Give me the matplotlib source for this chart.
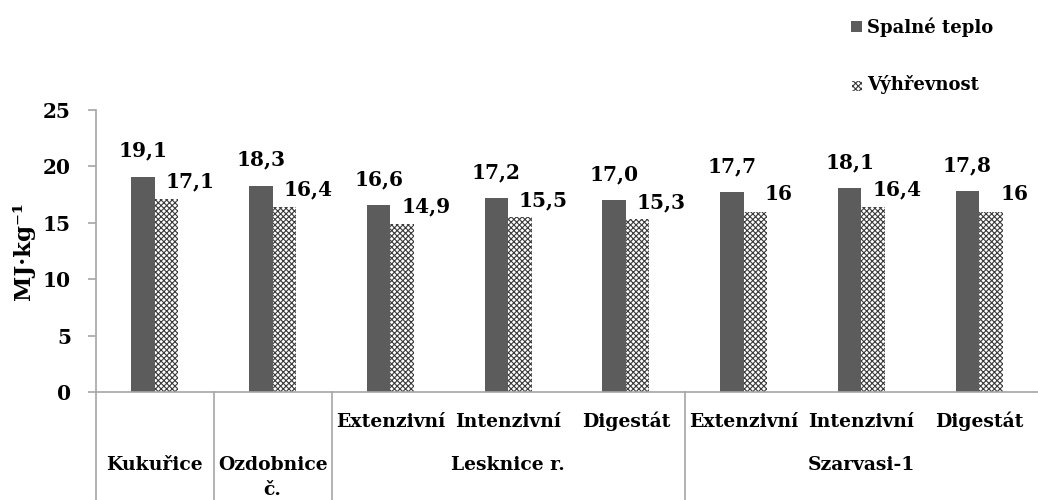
import matplotlib
matplotlib.use("Agg")
import matplotlib.pyplot as plt
from matplotlib.patches import Rectangle

plt.rcParams['font.family'] = ['DejaVu Serif']
plt.rcParams['font.weight'] = 'bold'
plt.rcParams['hatch.linewidth'] = 0.8

# Data
sub_labels = ["", "", "Extenzivní", "Intenzivní", "Digestát",
              "Extenzivní", "Intenzivní", "Digestát"]
spalne_teplo = [19.1, 18.3, 16.6, 17.2, 17.0, 17.7, 18.1, 17.8]
vyhrevnost = [17.1, 16.4, 14.9, 15.5, 15.3, 16.0, 16.4, 16.0]
spalne_text = ["19,1", "18,3", "16,6", "17,2", "17,0", "17,7", "18,1", "17,8"]
vyhrevnost_text = ["17,1", "16,4", "14,9", "15,5", "15,3", "16", "16,4", "16"]
groups = [(["Kukuřice"], 0, 0), (["Ozdobnice", "č."], 1, 1),
          (["Lesknice r."], 2, 4), (["Szarvasi-1"], 5, 7)]
y_ticks = [0, 5, 10, 15, 20, 25]

fig = plt.figure(figsize=(10.38, 5.0), dpi=100)
ax = fig.add_axes([96 / 1038, 108 / 500, 1 - 96 / 1038, 282 / 500])

grey_axis = "#a6a6a6"
dark = "#5c5c5c"
hatch_col = "#3a3a3a"
w = 0.2
x = list(range(len(spalne_teplo)))
ax.bar([i - w / 2 for i in x], spalne_teplo, width=w, color=dark, linewidth=0)
ax.bar([i + w / 2 for i in x], vyhrevnost, width=w, color="white",
       edgecolor=hatch_col, hatch="xxxxxx", linewidth=0)

val_fs = 14.5
for i in x:
    ax.text(i - w / 2, spalne_teplo[i] + 1.75, spalne_text[i],
            ha="center", va="baseline", fontsize=val_fs, fontweight="bold")
    ax.text(i + w / 2 + 0.2, vyhrevnost[i] + 1.0, vyhrevnost_text[i],
            ha="center", va="baseline", fontsize=val_fs, fontweight="bold")

ax.set_xlim(-0.5, 7.5)
ax.set_ylim(0, 25)
ax.set_yticks(y_ticks)
ax.set_yticklabels([str(t) for t in y_ticks], fontsize=val_fs, fontweight="bold")
ax.set_xticks([])
ax.tick_params(axis="y", length=6, width=1.2, color=grey_axis, pad=12)

for s in ["top", "right"]:
    ax.spines[s].set_visible(False)
for s in ["left", "bottom"]:
    ax.spines[s].set_color(grey_axis)
    ax.spines[s].set_linewidth(1.2)

ax.set_ylabel("MJ·kg⁻¹", fontsize=16.5, fontweight="bold", labelpad=6)

# Category separators below the axis
trans = ax.get_xaxis_transform()
for bx in [-0.5, 0.5, 1.5, 4.5]:
    ax.plot([bx, bx], [0, -110 / 282], transform=trans, color=grey_axis,
            lw=1.2, clip_on=False)

cat_fs = 13.5
for i, lab in enumerate(sub_labels):
    if lab:
        ax.text(i, -35 / 282, lab, transform=trans, ha="center",
                va="baseline", fontsize=cat_fs, fontweight="bold")

line_y = [-78 / 282, -103 / 282]
for lines, a, b in groups:
    cx = (a + b) / 2
    for k, line in enumerate(lines):
        ax.text(cx, line_y[k], line, transform=trans, ha="center",
                va="baseline", fontsize=cat_fs, fontweight="bold")

# Legend
fig.patches.append(Rectangle((851 / 1038, 1 - 32 / 500), 11 / 1038, 11 / 500,
                             transform=fig.transFigure, facecolor=dark,
                             linewidth=0))
fig.text(867 / 1038, 1 - 27 / 500, "Spalné teplo", fontsize=13,
         fontweight="bold", va="center")
fig.patches.append(Rectangle((852 / 1038, 1 - 91 / 500), 10 / 1038, 10 / 500,
                             transform=fig.transFigure, facecolor="white",
                             edgecolor=hatch_col, hatch="xxxxxx", linewidth=0))
fig.text(867 / 1038, 1 - 85 / 500, "Výhřevnost", fontsize=13,
         fontweight="bold", va="center")

fig.savefig("out.png", dpi=100)
